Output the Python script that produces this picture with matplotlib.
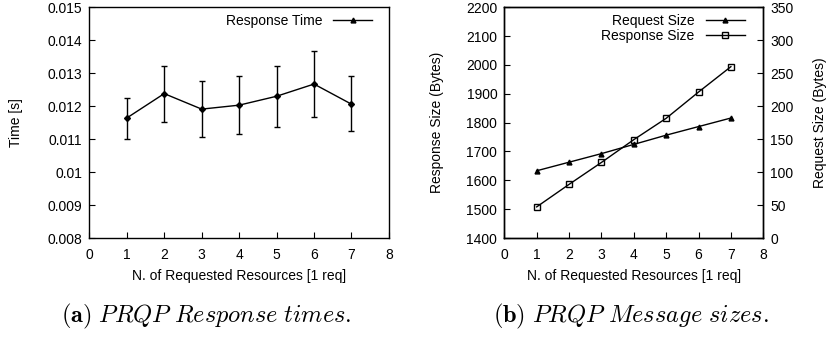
import matplotlib
matplotlib.use("Agg")
import matplotlib.pyplot as plt
from matplotlib.lines import Line2D

plt.rcParams['font.family'] = ['Liberation Sans', 'DejaVu Sans']
plt.rcParams['mathtext.fontset'] = 'cm'

# requested resources
n_req = [1, 2, 3, 4, 5, 6, 7]

# (a) response times
resp_time = [0.01164, 0.01238, 0.01191, 0.01203, 0.01230, 0.01267, 0.01206]
resp_time_hi = [0.01226, 0.01323, 0.01275, 0.01290, 0.01321, 0.01366, 0.01290]
resp_time_lo = [0.01099, 0.01153, 0.01107, 0.01115, 0.01138, 0.01167, 0.01124]

# (b) message sizes
request_size = [102, 115, 128, 142, 156, 169, 182]
response_size = [1508, 1586, 1662, 1741, 1815, 1906, 1994]

xticks = [0, 1, 2, 3, 4, 5, 6, 7, 8]
time_ticks = [0.008, 0.009, 0.01, 0.011, 0.012, 0.013, 0.014, 0.015]
time_labels = ['0.008', '0.009', '0.01', '0.011', '0.012', '0.013', '0.014', '0.015']

fig = plt.figure(figsize=(8.3, 3.44), dpi=100)
fs = 10


def style_axis(ax):
    for sp in ax.spines.values():
        sp.set_linewidth(1.0)
    ax.tick_params(direction='in', length=4, width=0.8, labelsize=fs)
    ax.tick_params(axis='x', pad=7)
    ax.tick_params(axis='y', pad=5)


# ---- left: response time
ax1 = fig.add_axes([0.1076, 0.308, 0.361, 0.671])
err = [[v - lo for v, lo in zip(resp_time, resp_time_lo)],
       [hi - v for v, hi in zip(resp_time, resp_time_hi)]]
ax1.errorbar(n_req, resp_time, yerr=err, color='black', lw=1.0, elinewidth=1.0,
             capsize=2, capthick=1.0, marker='D', markersize=3)
ax1.set_xlim(0, 8)
ax1.set_ylim(0.008, 0.015)
ax1.set_xticks(xticks)
ax1.set_yticks(time_ticks)
ax1.set_yticklabels(time_labels)
ax1.set_xlabel('N. of Requested Resources [1 req]', fontsize=fs, labelpad=5)
ax1.set_ylabel('Time [s]', fontsize=fs, labelpad=18)
style_axis(ax1)
h1 = Line2D([], [], color='black', lw=1.0, marker='^', markersize=3.5)
ax1.legend([h1], ['Response Time'], loc='upper right', frameon=False,
           markerfirst=False, handlelength=2.8, fontsize=fs,
           borderaxespad=0.1, handletextpad=0.8, bbox_to_anchor=(0.967, 1.0))

# ---- right: message sizes
ax2 = fig.add_axes([0.6076, 0.308, 0.312, 0.671])
ax3 = ax2.twinx()
l_resp, = ax2.plot(n_req, response_size, color='black', lw=1.0, marker='s',
                   markersize=4.5, markerfacecolor='none', markeredgewidth=1.0)
l_req, = ax3.plot(n_req, request_size, color='black', lw=1.0, marker='^',
                  markersize=3.5)
ax2.set_xlim(0, 8)
ax2.set_ylim(1400, 2200)
ax3.set_ylim(0, 350)
ax2.set_xticks(xticks)
ax2.set_yticks(range(1400, 2201, 100))
ax3.set_yticks(range(0, 351, 50))
ax2.set_xlabel('N. of Requested Resources [1 req]', fontsize=fs, labelpad=5)
ax2.set_ylabel('Response Size (Bytes)', fontsize=fs, labelpad=16)
ax3.set_ylabel('Request Size (Bytes)', fontsize=fs, labelpad=14)
style_axis(ax2)
style_axis(ax3)
ax3.legend([l_req, l_resp], ['Request Size', 'Response Size'], loc='upper right',
           frameon=False, markerfirst=False, handlelength=2.8, fontsize=fs,
           borderaxespad=0.1, handletextpad=0.8, labelspacing=0.05,
           bbox_to_anchor=(0.955, 1.0))

# ---- captions
fig.text(206 / 830, 1 - 316 / 344, r'$\mathbf{(a)}$ $\mathit{PRQP\ Response\ times.}$',
         ha='center', va='center', fontsize=17.5)
fig.text(631 / 830, 1 - 316 / 344, r'$\mathbf{(b)}$ $\mathit{PRQP\ Message\ sizes.}$',
         ha='center', va='center', fontsize=17.5)

fig.savefig('out.png', dpi=100)
